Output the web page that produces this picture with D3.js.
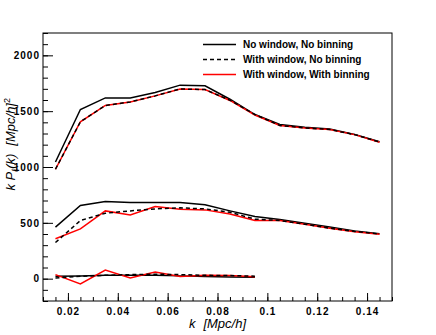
<!DOCTYPE html>
<html>
<head>
<meta charset="utf-8">
<script src="https://cdn.jsdelivr.net/npm/d3@7"></script>
<style>
  body { margin: 0; background: #fff; }
  text { font-family: "Liberation Sans", Arial, sans-serif; }
</style>
</head>
<body>
<svg id="grafico"></svg>
<script>
// k bins
const kValores = [0.015, 0.025, 0.035, 0.045, 0.055, 0.065, 0.075, 0.085, 0.095, 0.105, 0.115, 0.125, 0.135, 0.145];
const kHexa = [0.015, 0.025, 0.035, 0.045, 0.055, 0.065, 0.075, 0.085, 0.095];

// monopolo
const mono_semJanela = [1045, 1515, 1619, 1619, 1667, 1733, 1727, 1607, 1470, 1381, 1357, 1340, 1292, 1226];
const mono_janela = [980, 1405, 1551, 1583, 1637, 1699, 1693, 1598, 1470, 1372, 1350, 1336, 1290, 1224];
const mono_janelaBin = [980, 1405, 1551, 1583, 1637, 1699, 1693, 1596, 1466, 1372, 1350, 1336, 1290, 1222];

// quadrupolo
const quad_semJanela = [461, 655, 690, 681, 681, 681, 661, 607, 556, 530, 496, 462, 428, 402];
const quad_janela = [324, 521, 586, 607, 625, 634, 625, 595, 533, 521, 488, 452, 423, 400];
const quad_janelaBin = [357, 446, 607, 571, 646, 622, 616, 580, 521, 521, 488, 452, 421, 398];

// hexadecapolo
const hexa_semJanela = [21, 24, 30, 30, 30, 25, 20, 16, 12];
const hexa_janela = [6, 21, 30, 36, 40, 36, 30, 28, 22];
const hexa_janelaBin = [36, -47, 77, 6, 60, 20, 30, 28, 18];

const xTicks = [0.02, 0.04, 0.06, 0.08, 0.1, 0.12, 0.14];
const xTickLabels = ["0.02", "0.04", "0.06", "0.08", "0.1", "0.12", "0.14"];
const yTicks = [0, 500, 1000, 1500, 2000];
const yTickLabels = ["0", "500", "1000", "1500", "2000"];

const legendas = ["No window, No binning", "With window, No binning", "With window, With binning"];

const largura = 436, altura = 335;
const margem = { esq: 43, dir: 44, topo: 33, base: 34 };

let svg = d3.select("#grafico")
    .attr("width", largura)
    .attr("height", altura);

let fnX = d3.scaleLinear().domain([0.01, 0.15]).range([margem.esq, largura - margem.dir]);
let fnY = d3.scaleLinear().domain([-200, 2200]).range([altura - margem.base, margem.topo]);

// eixo y: ticks menores e maiores para dentro
svg.append("g")
    .attr("transform", `translate(${margem.esq},0)`)
    .call(d3.axisLeft(fnY).tickValues(d3.range(-200, 2201, 100)).tickSize(-5).tickFormat(""))
    .call(g => g.select(".domain").remove());

svg.append("g")
    .attr("transform", `translate(${margem.esq},0)`)
    .call(d3.axisLeft(fnY).tickValues(yTicks).tickSize(-10).tickPadding(3)
        .tickFormat((d, i) => yTickLabels[i]))
    .call(g => g.select(".domain").remove())
    .call(g => g.selectAll("text")
        .style("font-size", "10px").style("font-weight", "bold")
        .style("letter-spacing", "1px").attr("fill", "#000"));

// eixo x
svg.append("g")
    .attr("transform", `translate(0,${altura - margem.base})`)
    .call(d3.axisBottom(fnX).tickValues(d3.range(0.01, 0.1501, 0.005)).tickSize(-4).tickFormat(""))
    .call(g => g.select(".domain").remove());

svg.append("g")
    .attr("transform", `translate(0,${altura - margem.base})`)
    .call(d3.axisBottom(fnX).tickValues(xTicks).tickSize(-8).tickPadding(7)
        .tickFormat((d, i) => xTickLabels[i]))
    .call(g => g.select(".domain").remove())
    .call(g => g.selectAll("text")
        .style("font-size", "10px").style("font-weight", "bold")
        .style("letter-spacing", "1px").attr("fill", "#000"));

svg.selectAll(".tick line").attr("stroke", "#000").attr("stroke-width", 1);

// moldura
svg.append("rect")
    .attr("x", margem.esq)
    .attr("y", margem.topo)
    .attr("width", largura - margem.esq - margem.dir)
    .attr("height", altura - margem.topo - margem.base)
    .attr("fill", "none")
    .attr("stroke", "#000")
    .attr("stroke-width", 1);

let linha = d3.line().x(d => fnX(d[0])).y(d => fnY(d[1]));

function desenha(ks, valores, cor, tracejado) {
    svg.append("path")
        .datum(ks.map((k, i) => [k, valores[i]]))
        .attr("d", linha)
        .attr("fill", "none")
        .attr("stroke", cor)
        .attr("stroke-width", 1.5)
        .attr("stroke-dasharray", tracejado ? "4,3" : null);
}

desenha(kValores, mono_semJanela, "#000", false);
desenha(kValores, quad_semJanela, "#000", false);
desenha(kHexa, hexa_semJanela, "#000", false);
desenha(kValores, mono_janelaBin, "#ff0000", false);
desenha(kValores, quad_janelaBin, "#ff0000", false);
desenha(kHexa, hexa_janelaBin, "#ff0000", false);
desenha(kValores, mono_janela, "#000", true);
desenha(kValores, quad_janela, "#000", true);
desenha(kHexa, hexa_janela, "#000", true);

// legenda
const estilos = [["#000", null], ["#000", "4,3"], ["#ff0000", null]];
let leg = svg.append("g");
legendas.forEach((t, i) => {
    let y = 44.5 + i * 15;
    leg.append("line")
        .attr("x1", 203).attr("x2", 236)
        .attr("y1", y).attr("y2", y)
        .attr("stroke", estilos[i][0])
        .attr("stroke-width", 1.5)
        .attr("stroke-dasharray", estilos[i][1]);
    leg.append("text")
        .attr("x", 243).attr("y", y + 3.5)
        .style("font-size", "10px").style("font-weight", "bold")
        .text(t);
});

// titulos dos eixos
let tx = svg.append("text")
    .attr("x", 246).attr("y", 328)
    .attr("text-anchor", "end")
    .style("font-size", "13px").style("font-style", "italic");
tx.append("tspan").text("k");
tx.append("tspan").attr("dx", 8).text("[Mpc/h]");

let ty = svg.append("text")
    .attr("transform", "translate(15,98) rotate(-90)")
    .attr("text-anchor", "end")
    .style("font-size", "13px").style("font-style", "italic");
ty.append("tspan").text("k P");
ty.append("tspan").attr("dy", 3).style("font-size", "9px").text("ℓ");
ty.append("tspan").attr("dy", -3).text("(k)");
ty.append("tspan").attr("dx", 8).text("[Mpc/h]");
ty.append("tspan").attr("dy", -5).style("font-size", "9px").style("font-style", "normal").text("2");
</script>
</body>
</html>
